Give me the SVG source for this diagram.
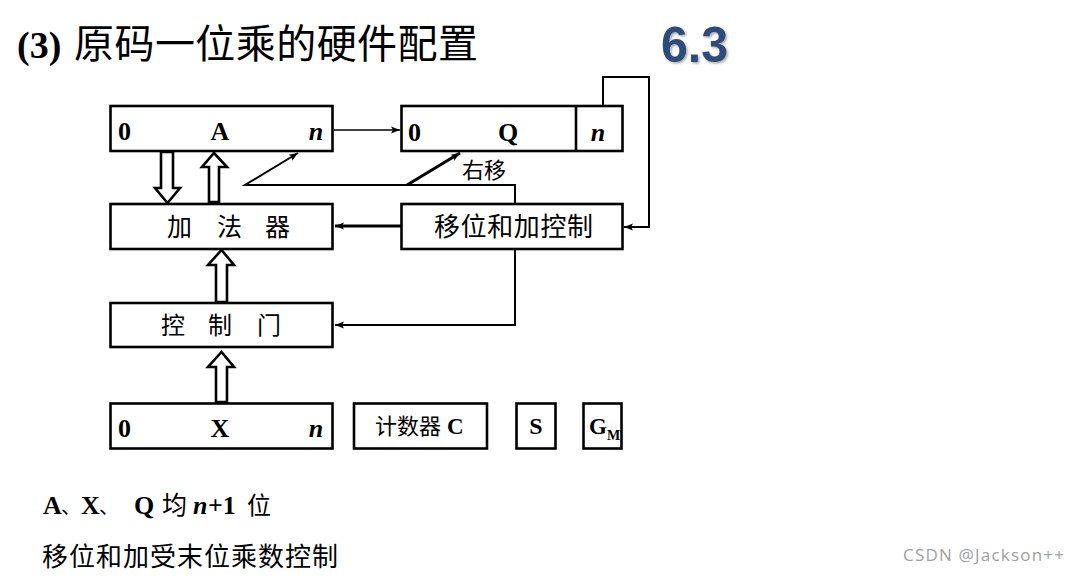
<svg xmlns="http://www.w3.org/2000/svg" width="1080" height="577" viewBox="0 0 1080 577">
<style>
.box{fill:#fff;stroke:#000;stroke-width:2.6}
.ser{font-family:"Liberation Serif","Times New Roman",serif;font-weight:bold;fill:#000}
.it{font-style:italic}
.cjk{font-family:"Noto Sans CJK SC","Noto Sans",sans-serif;fill:#000;font-weight:normal}
.ln{fill:none;stroke:#000;stroke-width:2}
.hol{fill:#fff;stroke:#000;stroke-width:2.6;stroke-linejoin:miter}
</style>
<defs>
<marker id="ah" markerWidth="10" markerHeight="8" refX="9" refY="4" orient="auto" markerUnits="userSpaceOnUse">
<path d="M0,0.5 L9,4 L0,7.5 L2,4 Z" fill="#000"/>
</marker>
<filter id="sh" x="-10%" y="-10%" width="130%" height="130%">
<feDropShadow dx="1.5" dy="1.5" stdDeviation="1" flood-color="#000" flood-opacity="0.35"/>
</filter>
</defs>
<rect width="1080" height="577" fill="#fff"/>

<g id="title">
<text x="17" y="58" class="ser" font-size="38">(3)</text>
<text x="74" y="58" class="cjk" font-size="40" textLength="404">原码一位乘的硬件配置</text>
</g>
<g id="section">
<text x="661" y="62" font-family="'Liberation Sans',Arial,sans-serif" font-weight="bold" font-size="50" fill="#2d4c7a" textLength="67" lengthAdjust="spacingAndGlyphs" filter="url(#sh)">6.3</text>
</g>

<g id="connectors">
<line x1="334" y1="130" x2="400" y2="130" stroke="#000" stroke-width="1.6" marker-end="url(#ah)"/>
<polyline class="ln" points="603,105 603,77 649,77 649,227 624,227" marker-end="url(#ah)"/>
<polyline class="ln" points="515,203 515,185 245,185 298,153" marker-end="url(#ah)"/>
<line x1="407" y1="185" x2="460" y2="153" stroke="#000" stroke-width="3" marker-end="url(#ah)"/>
<line x1="401" y1="226" x2="335" y2="226" stroke="#000" stroke-width="3" marker-end="url(#ah)"/>
<polyline class="ln" points="515,250 515,325 335,325" marker-end="url(#ah)"/>
<polygon class="hol" points="161,152 173,152 173,188 180,188 167.5,203 155,188 161,188"/>
<polygon class="hol" points="209,202 219,202 219,167 227,167 214,153 202,167 209,167"/>
<polygon class="hol" points="216,302 227,302 227,265 234,265 221.5,250 208,265 216,265"/>
<polygon class="hol" points="216,402 227,402 227,367 234,367 221.5,352 208,367 216,367"/>
</g>

<g id="regA">
<rect class="box" x="110.5" y="106" width="222" height="45"/>
<text x="118" y="140" class="ser" font-size="26">0</text>
<text x="220" y="140" class="ser" font-size="26" text-anchor="middle">A</text>
<text x="316" y="140" class="ser it" font-size="26" text-anchor="middle">n</text>
</g>
<g id="regQ">
<rect class="box" x="401.5" y="106" width="221" height="45"/>
<line x1="576" y1="106" x2="576" y2="151" stroke="#000" stroke-width="2.6"/>
<text x="408" y="141" class="ser" font-size="26">0</text>
<text x="508" y="141" class="ser" font-size="26" text-anchor="middle">Q</text>
<text x="598" y="141" class="ser it" font-size="26" text-anchor="middle">n</text>
</g>
<g id="adder">
<rect class="box" x="110.5" y="204" width="222" height="45"/>
<text y="236" class="cjk" font-size="25" x="167 217 265">加法器</text>
</g>
<g id="shiftctrl">
<rect class="box" x="401.5" y="204" width="221" height="45"/>
<text x="434" y="236" class="cjk" font-size="26" textLength="159">移位和加控制</text>
</g>
<g id="rightshift">
<text x="462" y="178" class="cjk" font-size="22">右移</text>
</g>
<g id="ctrlgate">
<rect class="box" x="110.5" y="303" width="222" height="44"/>
<text y="334" class="cjk" font-size="24" x="161 208 257">控制门</text>
</g>
<g id="regX">
<rect class="box" x="110.5" y="403.5" width="222" height="45"/>
<text x="118" y="437" class="ser" font-size="26">0</text>
<text x="220" y="437" class="ser" font-size="26" text-anchor="middle">X</text>
<text x="316" y="437" class="ser it" font-size="26" text-anchor="middle">n</text>
</g>
<g id="counter">
<rect class="box" x="354" y="403.5" width="133" height="45"/>
<text x="375" y="434" class="cjk" font-size="22">计数器</text>
<text x="447" y="434" class="ser" font-size="23">C</text>
</g>
<g id="regS">
<rect class="box" x="516.5" y="403.5" width="39" height="45"/>
<text x="536" y="434" class="ser" font-size="24" text-anchor="middle">S</text>
</g>
<g id="regGM">
<rect class="box" x="583.5" y="403.5" width="38" height="45"/>
<text x="589" y="434" class="ser" font-size="23">G</text>
<text x="607" y="440" class="ser" font-size="14">M</text>
</g>

<g id="notes">
<text y="514" class="ser" font-size="26"><tspan x="43">A</tspan><tspan x="61" class="cjk" font-size="20">、</tspan><tspan x="81">X</tspan><tspan x="99" class="cjk" font-size="20">、</tspan><tspan x="134">Q</tspan><tspan x="162" class="cjk" font-size="25">均</tspan><tspan x="193" class="it">n</tspan><tspan x="208">+1</tspan><tspan x="247" class="cjk" font-size="24">位</tspan></text>
<text x="42" y="566" class="cjk" font-size="26" textLength="296">移位和加受末位乘数控制</text>
</g>
<g id="watermark">
<text x="903" y="561" font-family="'Open Sans','DejaVu Sans',sans-serif" font-size="17" fill="#a0a0a0" textLength="161">CSDN @Jackson++</text>
</g>
</svg>
